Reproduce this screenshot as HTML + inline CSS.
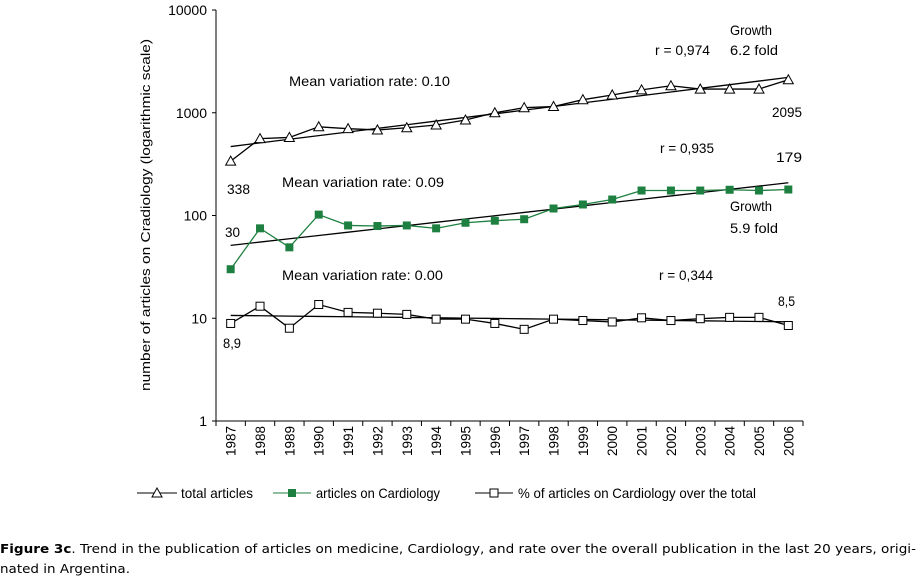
<!DOCTYPE html>
<html><head><meta charset="utf-8"><style>
html,body{margin:0;padding:0;background:#fff;}
svg{display:block;font-family:"Liberation Sans",Arial,sans-serif;}
</style></head><body>
<svg id="chart" width="923" height="579" viewBox="0 0 923 579" xmlns="http://www.w3.org/2000/svg">
<g id="axes"></g>
<g id="marks"></g>
<g id="annot" font-size="14" fill="#000">
<text x="289" y="86" textLength="161" lengthAdjust="spacingAndGlyphs">Mean variation rate: 0.10</text>
<text x="655" y="55" textLength="55" lengthAdjust="spacingAndGlyphs">r = 0,974</text>
<text x="730" y="35" textLength="42" lengthAdjust="spacingAndGlyphs">Growth</text>
<text x="730" y="55" textLength="48" lengthAdjust="spacingAndGlyphs">6.2 fold</text>
<text x="772" y="117" textLength="30" lengthAdjust="spacingAndGlyphs">2095</text>
<text x="227" y="194" textLength="23" lengthAdjust="spacingAndGlyphs">338</text>
<text x="660" y="153" textLength="54" lengthAdjust="spacingAndGlyphs">r = 0,935</text>
<text x="776" y="162" textLength="26" lengthAdjust="spacingAndGlyphs">179</text>
<text x="282" y="187" textLength="162" lengthAdjust="spacingAndGlyphs">Mean variation rate: 0.09</text>
<text x="730" y="211" textLength="42" lengthAdjust="spacingAndGlyphs">Growth</text>
<text x="730" y="233" textLength="48" lengthAdjust="spacingAndGlyphs">5.9 fold</text>
<text x="225" y="237" textLength="15" lengthAdjust="spacingAndGlyphs">30</text>
<text x="282" y="280" textLength="161" lengthAdjust="spacingAndGlyphs">Mean variation rate: 0.00</text>
<text x="659" y="280" textLength="54" lengthAdjust="spacingAndGlyphs">r = 0,344</text>
<text x="778" y="306" textLength="17" lengthAdjust="spacingAndGlyphs">8,5</text>
<text x="223" y="348" textLength="18" lengthAdjust="spacingAndGlyphs">8,9</text>
<text transform="translate(150,215) rotate(-90)" text-anchor="middle" font-size="13" textLength="352" lengthAdjust="spacingAndGlyphs">number of articles on Cradiology (logarithmic scale)</text>
</g>
<g id="legend" font-size="14">
<g>
<line x1="137" y1="493" x2="177" y2="493" stroke="#000"/>
<path d="M152,497 L157,488 L162,497 Z" fill="#fff" stroke="#000"/>
<text x="181" y="498" textLength="72" lengthAdjust="spacingAndGlyphs">total articles</text></g>
<g>
<line x1="273" y1="493" x2="311" y2="493" stroke="#1e8040"/>
<rect x="288" y="489" width="8" height="8" fill="#1e8040"/>
<text x="316" y="498" textLength="124" lengthAdjust="spacingAndGlyphs">articles on Cardiology</text></g>
<g>
<line x1="475" y1="493" x2="513" y2="493" stroke="#000"/>
<rect x="490" y="489" width="8" height="8" fill="#fff" stroke="#000"/>
<text x="518" y="498" textLength="238" lengthAdjust="spacingAndGlyphs">% of articles on Cardiology over the total</text></g>
</g>
<g font-family="'DejaVu Sans',Verdana,sans-serif" font-size="12.5" fill="#000">
<text x="0" y="553" textLength="916" lengthAdjust="spacingAndGlyphs"><tspan font-weight="bold">Figure 3c</tspan>. Trend in the publication of articles on medicine, Cardiology, and rate over the overall publication in the last 20 years, origi-</text>
<text x="0" y="573" textLength="130" lengthAdjust="spacingAndGlyphs">nated in Argentina.</text>
</g>
</svg>
<script>
const years = ["1987","1988","1989","1990","1991","1992","1993","1994","1995","1996","1997","1998","1999","2000","2001","2002","2003","2004","2005","2006"];
const totalArticles = [338,560,575,730,700,680,715,760,850,1000,1120,1150,1340,1490,1670,1830,1700,1700,1700,2095];
const cardiologyArticles = [30,75,49,102,80,79,80,75,85,89,92,117,128,143,175,175,175,178,175,179];
const cardiologyPercent = [8.9,13.1,8.0,13.6,11.4,11.2,10.9,9.8,9.8,8.9,7.8,9.8,9.5,9.2,10.1,9.5,9.9,10.2,10.2,8.5];
const yTicks = [1,10,100,1000,10000];
const yTickLabels = ["1","10","100","1000","10000"];

const NS = "http://www.w3.org/2000/svg";
const X0 = 216, X1 = 803, Y1 = 10000, YBOT = 421, DEC = 102.75;
const band = (X1 - X0) / years.length;
function xPos(i){ return X0 + band * (i + 0.5); }
function yPos(v){ return YBOT - DEC * Math.log10(v); }
function mk(tag, attrs, parent){ const e = document.createElementNS(NS, tag); for (const k in attrs) e.setAttribute(k, attrs[k]); parent.appendChild(e); return e; }

const axes = document.getElementById('axes');
const marks = document.getElementById('marks');
let e;
e = mk('line', {x1:X0, y1:yPos(Y1), x2:X0, y2:YBOT, stroke:'#000'}, axes);


e = mk('line', {x1:X0, y1:YBOT, x2:X1, y2:YBOT, stroke:'#000'}, axes);


yTicks.forEach((t, i) => {
  const y = yPos(t);
  e = mk('line', {x1:X0-4, y1:y, x2:X0, y2:y, stroke:'#000'}, axes);
  
  
  e = mk('text', {x:X0-9, y:y+5, 'text-anchor':'end', 'font-size':14}, axes);
  e.textContent = yTickLabels[i];
  
  
});
for (let i = 0; i <= years.length; i++) {
  const x = X0 + band * i;
  e = mk('line', {x1:x, y1:YBOT, x2:x, y2:YBOT+5, stroke:'#000'}, axes);
  
  
}
years.forEach((yr, i) => {
  const x = xPos(i);
  e = mk('text', {transform:`translate(${x+5},${426}) rotate(-90)`, 'text-anchor':'end', 'font-size':14, textLength:30, lengthAdjust:'spacingAndGlyphs'}, axes);
  e.textContent = yr;
  
  
});

function trend(vals){
  const n = vals.length; let sx=0, sy=0, sxx=0, sxy=0;
  vals.forEach((v,i)=>{ const l=Math.log10(v); sx+=i; sy+=l; sxx+=i*i; sxy+=i*l; });
  const b = (n*sxy - sx*sy)/(n*sxx - sx*sx), a = (sy - b*sx)/n;
  return vals.map((v,i)=>Math.pow(10, a + b*i));
}
function drawSeries(vals, color, marker, name){
  const g = mk('g', {}, marks);
  
  
  const tv = trend(vals);
  e = mk('polyline', {points: tv.map((v,i)=>`${xPos(i)},${yPos(v)}`).join(' '), fill:'none', stroke:'#000', 'stroke-width':1.3}, g);
  
  
  e = mk('polyline', {points: vals.map((v,i)=>`${xPos(i)},${yPos(v)}`).join(' '), fill:'none', stroke:color, 'stroke-width':1.3}, g);
  
  
  vals.forEach((v,i)=>{
    const x = xPos(i), y = yPos(v);
    if (marker === 'tri') e = mk('path', {d:`M${x-5},${y+4} L${x},${y-5} L${x+5},${y+4} Z`, fill:'#fff', stroke:'#000'}, g);
    else if (marker === 'sq') e = mk('rect', {x:x-4, y:y-4, width:8, height:8, fill:color}, g);
    else e = mk('rect', {x:x-4, y:y-4, width:8, height:8, fill:'#fff', stroke:'#000'}, g);
    
    
  });
}
drawSeries(totalArticles, '#000', 'tri', 'total-articles');
drawSeries(cardiologyArticles, '#1e8040', 'sq', 'cardiology-articles');
drawSeries(cardiologyPercent, '#000', 'open', 'cardiology-percent');
</script>
</body></html>
